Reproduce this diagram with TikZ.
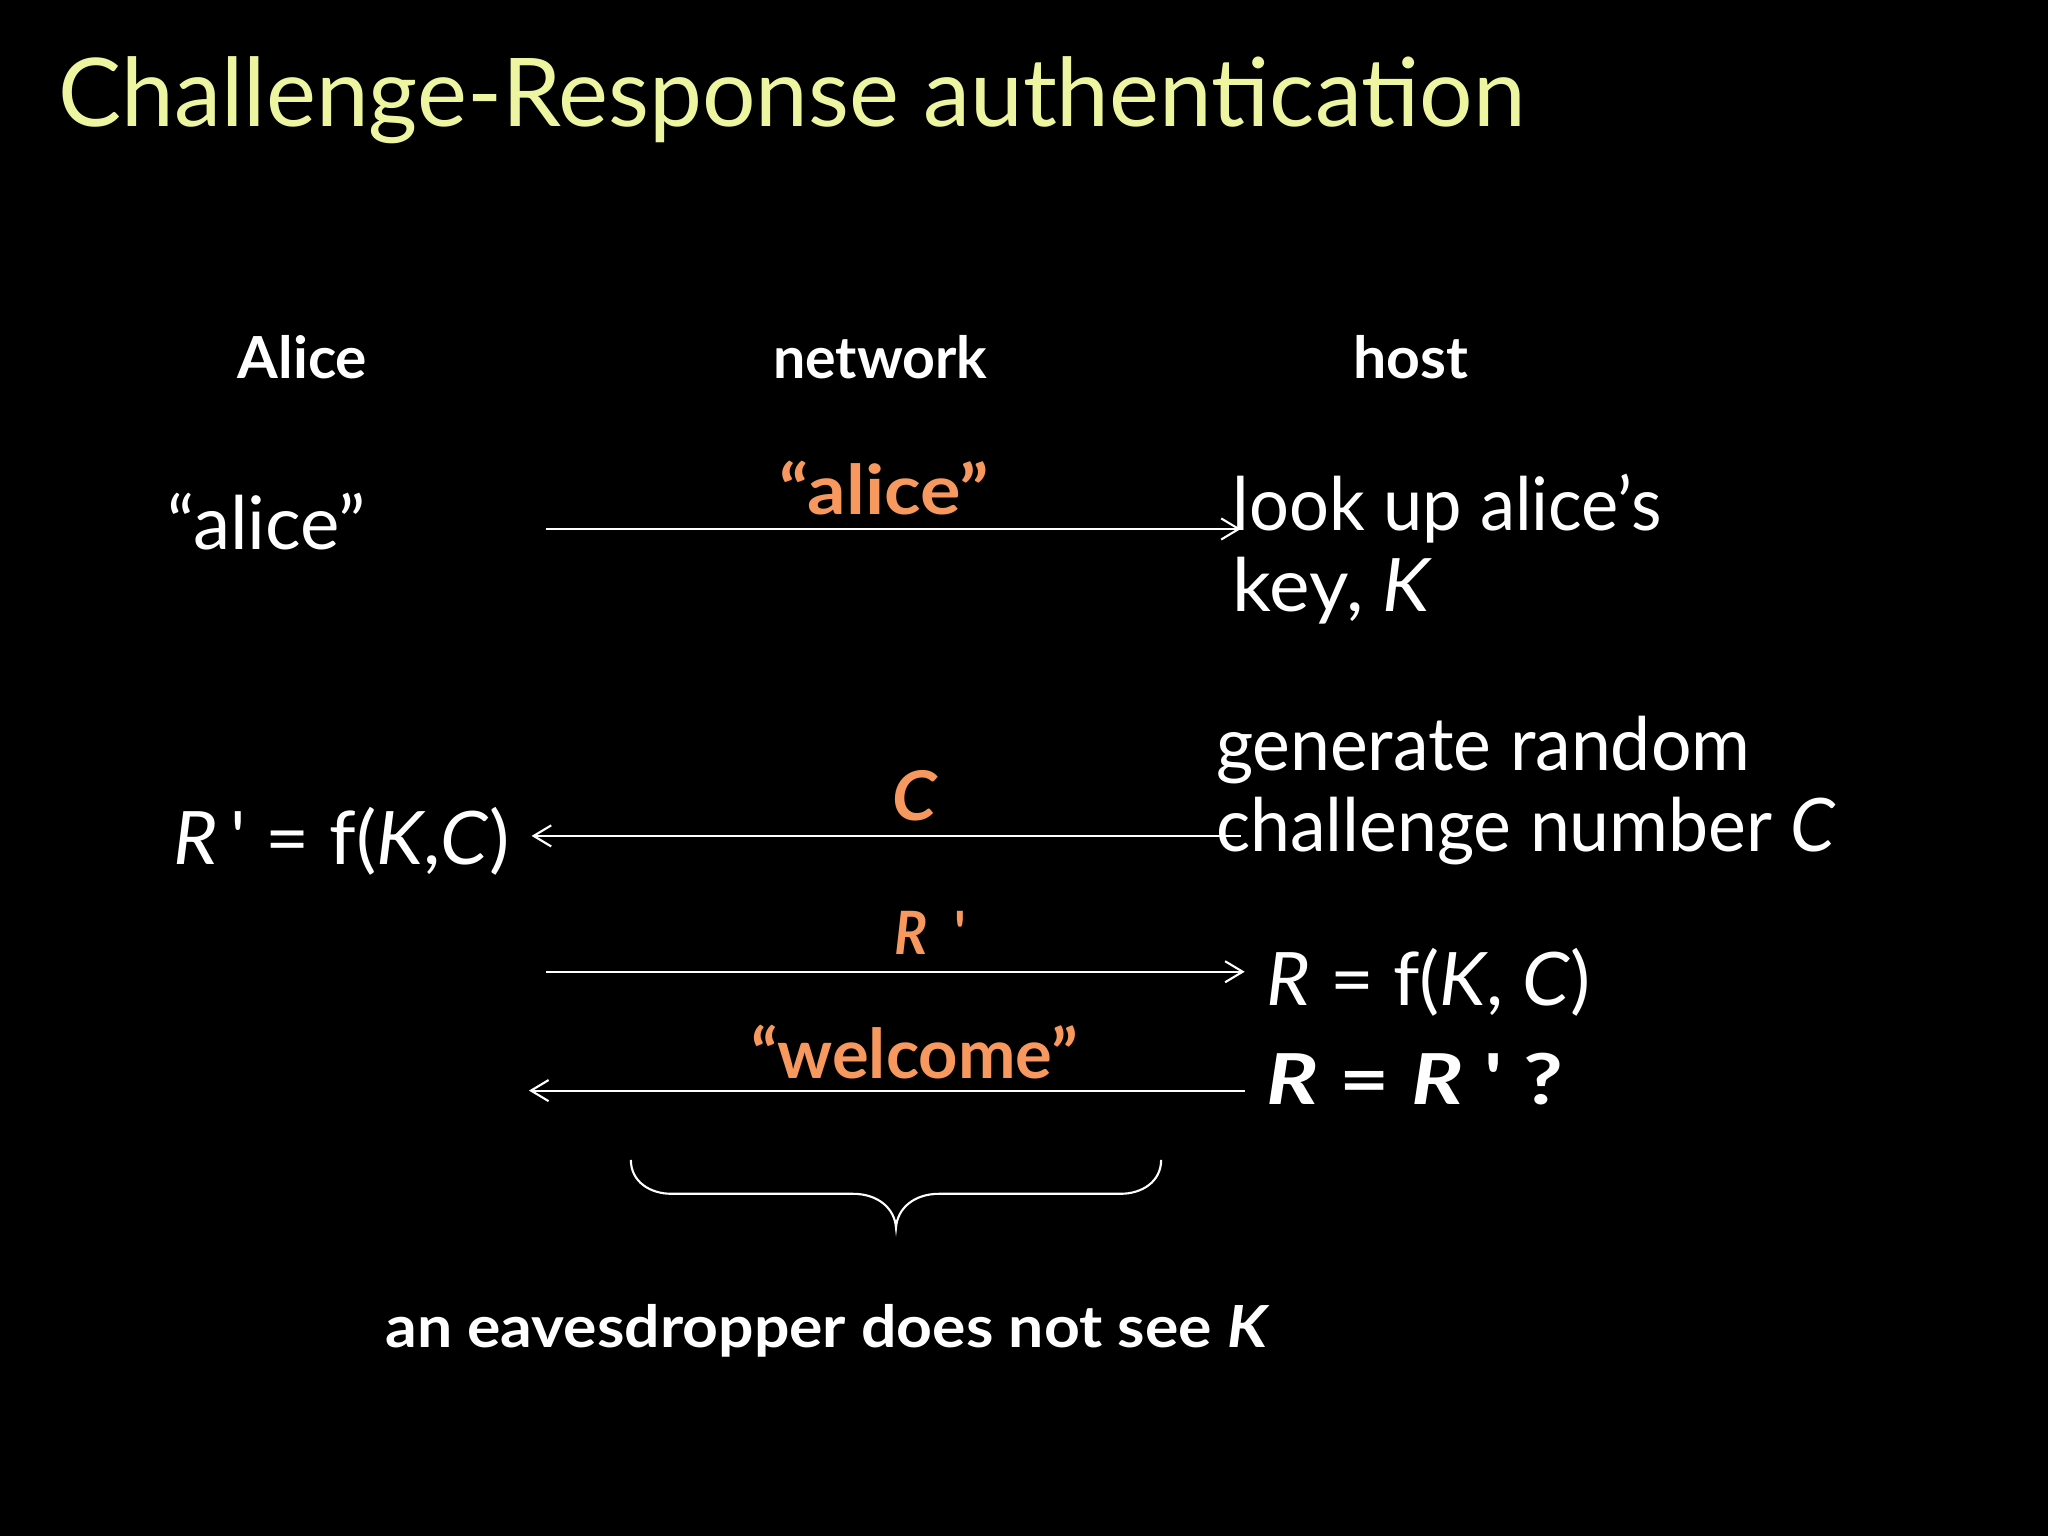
\documentclass[tikz,border=0pt]{standalone}
\usepackage{fontspec}
\usepackage{graphicx}
\setmainfont{Lato}
\newfontfamily\rawfont{Lato}[Ligatures=TeXOff]
\usetikzlibrary{arrows.meta}
\definecolor{titlecol}{HTML}{EEF5A0}
\definecolor{orangecol}{HTML}{F7985E}
\newlength\upx
\setlength{\upx}{0.013061cm}
\newcommand{\fw}[2]{\resizebox{#1\upx}{\height}{#2}}
\newcommand{\tick}{{\rawfont\char"27\relax}}
\tikzset{
  txt/.style={inner sep=0pt, outer sep=0pt, anchor=base west, text=white},
  ttl/.style={txt, text=titlecol, font=\fontsize{27}{30}\selectfont},
  hdr/.style={txt, font=\fontsize{16.5}{19}\selectfont\bfseries},
  body/.style={txt, font=\fontsize{21}{24}\selectfont},
  lbl/.style={txt, text=orangecol, font=\fontsize{19.5}{22}\selectfont\bfseries},
  msg/.style={draw=white, line width=0.6pt, -{Straight Barb[length=5pt,width=6pt]}},
}
\begin{document}
\begin{tikzpicture}[x=0.013061cm, y=-0.013061cm]
\fill[black] (0,0) rectangle (1568,1176);
\useasboundingbox (0,0) rectangle (1568,1176);

\node[ttl] (title) at (45,97) {\fw{1123}{Challenge-Response authentication}};

\node[hdr] (alice) at (182,290) {\fw{99}{Alice}};
\node[hdr] (network) at (592,290) {\fw{164}{network}};
\node[hdr] (host) at (1036,290) {\fw{88}{host}};

\node[body] (aname) at (128,421) {\fw{152}{“alice”}};
\node[lbl] (l1) at (597,394) {\fw{160}{“alice”}};
\node[body] (look1) at (944,406) {\fw{328}{look up alice’s}};
\node[body] (look2) at (944,468) {\fw{153}{key, \textit{K}}};

\node[body] (gen1) at (931,590) {\fw{409}{generate random}};
\node[body] (gen2) at (931,652) {\fw{475}{challenge number \textit{C}}};
\node[lbl] (l2) at (683,628) {\fw{35}{\textit{C}}};
\node[body] (rprime) at (133,662) {\fw{257}{\textit{R}\,\tick{} = f(\textit{K},\textit{C})}};

\node[lbl, font=\fontsize{17}{19}\selectfont\bfseries] (l3) at (685,731) {\fw{55}{\textit{R}\ \ \tick}};
\node[body] (rcalc) at (970,770) {\fw{248}{\textit{R} = f(\textit{K}, \textit{C})}};

\node[lbl] (l4) at (575,826) {\fw{250}{“welcome”}};
\node[body, font=\fontsize{20}{24}\selectfont\bfseries] (rcmp) at (970,846) {\fw{227}{\textit{R} = \textit{R} \tick{} ?}};

\node[hdr] (eaves) at (295,1032) {\fw{677}{an eavesdropper does not see \textit{K}}};

\coordinate (a1s) at (418,405);
\coordinate (a1e) at (950,405);
\coordinate (a2s) at (950,640);
\coordinate (a2e) at (407,640);
\coordinate (a3s) at (418,744);
\coordinate (a3e) at (953,744);
\coordinate (a4s) at (953,835);
\coordinate (a4e) at (405,835);
\draw[msg] (a1s) -- (a1e);
\draw[msg] (a2s) -- (a2e);
\draw[msg] (a3s) -- (a3e);
\draw[msg] (a4s) -- (a4e);

\draw[white, line width=0.6pt] (483,888) .. controls (483,905) and (498,914) .. (514,914) -- (653,914) .. controls (672,914) and (685,925) .. (686,940) .. controls (687,925) and (700,914) .. (719,914) -- (858,914) .. controls (874,914) and (889,905) .. (889,888);
\end{tikzpicture}
\end{document}
